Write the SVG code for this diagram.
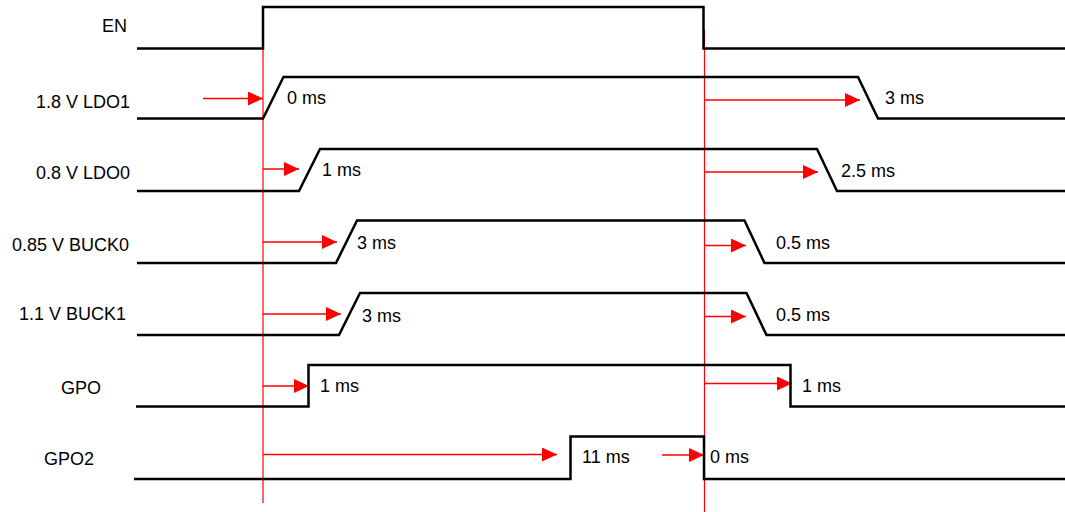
<svg xmlns="http://www.w3.org/2000/svg" width="1065" height="512" viewBox="0 0 1065 512">
<defs>
<marker id="ah" markerUnits="userSpaceOnUse" markerWidth="15" markerHeight="14" refX="15" refY="7" orient="auto">
<path d="M0,0 L15,7 L0,14 z" fill="#ff0000"/>
</marker>
</defs>
<style>
.sig{fill:none;stroke:#000;stroke-width:2.5;stroke-linejoin:miter}
.ref{stroke:#ff0000;stroke-width:1.2;fill:none}
.arr{stroke:#ff0000;stroke-width:1.3;fill:none;marker-end:url(#ah)}
.lbl{font-family:"Liberation Sans",Arial,sans-serif;font-size:18px;fill:#000}
.t{font-family:"Liberation Sans",Arial,sans-serif;font-size:18px;fill:#000}
</style>
<rect width="1065" height="512" fill="#fff"/>
<g id="labels">
<text class="lbl" x="102" y="32">EN</text>
<text class="lbl" x="36" y="107.5">1.8 V LDO1</text>
<text class="lbl" x="36" y="179">0.8 V LDO0</text>
<text class="lbl" x="12" y="251">0.85 V BUCK0</text>
<text class="lbl" x="19" y="319.5">1.1 V BUCK1</text>
<text class="lbl" x="61" y="394">GPO</text>
<text class="lbl" x="44" y="465">GPO2</text>
</g>
<g id="connectors">
<line class="ref" x1="263" y1="48" x2="263" y2="503"/>
<line class="ref" x1="704.5" y1="30" x2="704.5" y2="512"/>
<line class="arr" x1="203" y1="98.5" x2="263" y2="98.5"/>
<line class="arr" x1="704" y1="100" x2="860" y2="100"/>
<line class="arr" x1="263" y1="169" x2="299" y2="169"/>
<line class="arr" x1="704" y1="172" x2="818" y2="172"/>
<line class="arr" x1="263" y1="242" x2="337" y2="242"/>
<line class="arr" x1="704" y1="245.5" x2="746" y2="245.5"/>
<line class="arr" x1="263" y1="314" x2="341" y2="314"/>
<line class="arr" x1="704" y1="316.5" x2="746" y2="316.5"/>
<line class="arr" x1="263" y1="386" x2="309" y2="386"/>
<line class="arr" x1="704" y1="383.5" x2="792" y2="383.5"/>
<line class="arr" x1="263" y1="454.5" x2="557" y2="454.5"/>
<line class="arr" x1="662" y1="455" x2="704" y2="455"/>
</g>
<g id="EN"><path class="sig" d="M137,48.5 H263 V7 H703.5 V48.5 H1065"/></g>
<g id="LDO1"><path class="sig" d="M137,118.5 H263 L283.5,77 H858 L878,118.5 H1065"/>
<text class="t" x="287" y="104">0 ms</text><text class="t" x="885" y="104">3 ms</text></g>
<g id="LDO0"><path class="sig" d="M137,191 H299 L320,149 H817 L837,191 H1065"/>
<text class="t" x="322" y="176">1 ms</text><text class="t" x="841" y="177">2.5 ms</text></g>
<g id="BUCK0"><path class="sig" d="M137,263 H336 L357,220.5 H744.5 L764.5,263 H1065"/>
<text class="t" x="357" y="248.5">3 ms</text><text class="t" x="776" y="249">0.5 ms</text></g>
<g id="BUCK1"><path class="sig" d="M137,335 H339 L360,293 H746.5 L766.5,335 H1065"/>
<text class="t" x="362" y="322">3 ms</text><text class="t" x="776" y="321">0.5 ms</text></g>
<g id="GPO"><path class="sig" d="M136,406.5 H308.5 V365 H790.5 V406.5 H1065"/>
<text class="t" x="320" y="392">1 ms</text><text class="t" x="802" y="392">1 ms</text></g>
<g id="GPO2"><path class="sig" d="M134,479 H570.5 V436.5 H704 V479 H1065"/>
<text class="t" x="582" y="463">11 ms</text><text class="t" x="710" y="463">0 ms</text></g>
</svg>
